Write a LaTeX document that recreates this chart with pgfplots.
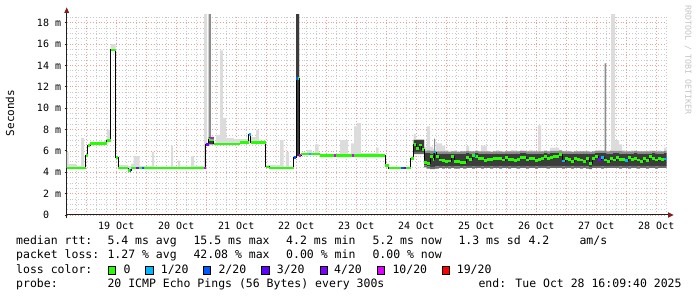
\documentclass[border=0pt]{standalone}
\usepackage{fontspec}
\setmainfont{DejaVu Sans Mono}
\usepackage{pgfplots}
\pgfplotsset{compat=1.18}
\usepackage{pgfplotstable}
\definecolor{lcA}{HTML}{26FF00}
\definecolor{lcB}{HTML}{00B8FF}
\definecolor{lcC}{HTML}{0059FF}
\definecolor{lcD}{HTML}{5E00FF}
\definecolor{lcE}{HTML}{7E00FF}
\definecolor{lcF}{HTML}{DD00FF}
\definecolor{lcG}{HTML}{FF0000}
\definecolor{smkA}{HTML}{6A6A6A}
\definecolor{smkB}{HTML}{3C3C3C}
\definecolor{smkC}{HTML}{8C8C8C}
\definecolor{smkD}{HTML}{DCDCDC}
\definecolor{mgrid}{HTML}{E6A0A0}
\definecolor{ngrid}{HTML}{C8C8C8}
\definecolor{arrowc}{HTML}{7F1F1F}
\definecolor{axisc}{HTML}{1F1F1F}
\definecolor{wmark}{HTML}{C4C4C4}

\pgfplotstableread{
d lo f1 f2 f3 mx
18.673 4.4 4.4 4.4 4.4 5.9
18.708 4.4 4.4 4.4 4.4 4.75
18.833 4.4 4.4 4.4 4.4 4.6
18.917 4.4 4.4 4.4 4.4 7.2
18.967 4.4 4.4 4.4 4.4 4.4
18.988 5.55 5.55 5.55 5.55 5.6
19.025 6.5 6.5 6.5 6.5 6.5
19.067 6.7 6.7 6.7 6.7 6.8
19.300 6.7 6.7 6.7 6.7 7.0
19.345 7.0 7.0 7.0 7.0 8.0
19.405 15.45 15.45 15.45 15.45 16.0
19.488 5.4 5.4 5.4 5.4 5.5
19.533 4.4 4.4 4.4 4.4 4.7
19.700 4.2 4.2 4.2 4.2 4.6
19.750 4.4 4.4 4.4 4.4 4.8
19.788 4.4 4.4 4.4 4.4 5.5
19.888 4.4 4.4 4.4 4.4 4.6
20.095 4.4 4.4 4.4 4.4 5.9
20.133 4.4 4.4 4.4 4.4 4.5
20.417 4.4 4.4 4.4 4.4 6.5
20.450 4.4 4.4 4.4 4.4 4.5
20.533 4.4 4.4 4.4 4.4 5.1
20.567 4.4 4.4 4.4 4.4 4.5
20.750 4.4 4.4 4.4 4.4 5.5
20.800 4.4 4.4 4.4 4.4 4.6
20.967 4.4 4.4 4.4 4.4 18.8
20.988 6.6 6.6 6.6 6.6 18.8
21.017 6.6 6.6 6.6 6.6 6.6
21.038 6.6 6.6 7.3 18.8 18.8
21.078 6.6 6.6 7.3 7.3 7.3
21.122 6.65 6.65 6.65 6.65 6.7
21.167 6.65 6.65 6.65 6.65 7.5
21.233 6.65 6.65 6.65 6.65 15.4
21.278 6.65 6.65 6.65 6.65 9.1
21.333 6.65 6.65 6.65 6.65 7.2
21.455 6.65 6.65 6.65 6.65 7.1
21.567 6.8 6.8 6.8 6.8 7.1
21.705 7.5 7.5 7.5 7.5 7.6
21.745 6.75 6.75 6.75 6.75 7.3
21.833 6.75 6.75 6.75 6.75 8.0
21.878 6.75 6.75 6.75 6.75 6.9
21.995 4.5 4.5 4.5 4.5 4.7
22.050 4.4 4.4 4.4 4.4 4.7
22.233 4.4 4.4 4.4 4.4 7.0
22.288 4.4 4.4 4.4 4.4 4.5
22.328 4.4 4.4 4.4 4.4 5.9
22.378 4.4 4.4 4.4 4.4 4.5
22.462 5.4 5.4 5.4 5.4 5.5
22.500 5.5 5.5 18.8 18.8 18.8
22.550 5.55 5.55 5.55 5.55 5.7
22.583 5.7 5.7 5.7 5.7 5.8
22.683 5.7 5.7 5.7 5.7 6.1
22.762 5.7 5.7 5.7 5.7 5.8
22.817 5.7 5.7 5.7 5.7 6.6
22.872 5.7 5.7 5.7 5.7 5.8
22.900 5.6 5.6 5.6 5.6 5.7
23.233 5.6 5.6 5.6 5.6 7.0
23.367 5.6 5.6 5.6 5.6 5.7
23.417 5.6 5.6 5.6 5.6 6.7
23.467 5.6 5.6 5.6 5.6 8.3
23.512 5.6 5.6 5.6 5.6 8.6
23.578 5.6 5.6 5.6 5.6 5.8
23.833 5.6 5.6 5.6 5.6 6.3
23.872 5.6 5.6 5.6 5.6 5.7
23.983 4.6 4.6 4.6 4.6 4.6
24.038 4.4 4.4 4.4 4.4 4.4
24.405 5.3 5.3 5.3 5.3 5.3
24.455 5.7 5.9 7.0 7.05 7.6
24.500 5.7 5.9 7.0 7.05 7.1
24.633 4.45 4.65 5.8 6.0 6.4
24.683 4.35 4.55 5.8 6.05 8.3
24.733 4.3 4.5 5.75 6.0 6.4
24.783 4.3 4.5 5.8 6.0 6.2
24.797 4.3 4.5 5.8 7.15 7.15
24.813 4.35 4.55 5.75 5.95 6.1
24.833 4.35 4.55 5.75 5.95 6.7
24.883 4.4 4.6 5.7 5.95 6.7
24.933 4.35 4.55 5.75 5.95 6.5
24.983 4.4 4.6 5.75 5.95 6.1
25.033 4.35 4.55 5.7 5.9 6.0
25.083 4.4 4.6 5.75 5.95 6.0
25.133 4.35 4.55 5.7 5.95 6.05
25.183 4.35 4.55 5.7 5.9 5.95
25.233 4.4 4.6 5.75 5.95 6.0
25.283 4.35 4.55 5.75 5.95 6.0
25.333 4.4 4.6 5.8 6.0 6.45
25.383 4.4 4.6 5.75 5.95 6.0
25.433 4.35 4.55 5.75 5.95 6.0
25.483 4.4 4.6 5.8 6.0 6.05
25.533 4.4 4.6 5.75 5.95 6.0
25.583 4.35 4.55 5.75 5.95 6.5
25.633 4.4 4.6 5.75 5.95 6.5
25.683 4.4 4.6 5.75 5.95 6.0
25.733 4.35 4.55 5.7 5.9 5.95
25.783 4.4 4.6 5.75 5.95 6.0
25.833 4.4 4.6 5.75 5.95 6.1
25.883 4.35 4.55 5.75 5.95 6.0
25.933 4.4 4.6 5.7 5.9 6.0
25.983 4.4 4.6 5.75 5.95 6.0
26.033 4.35 4.55 5.75 5.95 6.0
26.083 4.4 4.6 5.75 5.95 6.1
26.133 4.4 4.6 5.75 5.95 6.05
26.183 4.35 4.55 5.7 5.95 6.0
26.233 4.4 4.6 5.8 6.0 6.05
26.283 4.4 4.6 5.8 6.0 6.0
26.333 4.35 4.55 5.75 5.95 6.0
26.383 4.4 4.6 5.75 5.95 6.1
26.433 4.4 4.6 5.75 5.95 6.05
26.483 4.35 4.55 5.7 5.95 6.0
26.533 4.4 4.6 5.75 5.95 8.4
26.583 4.4 4.6 5.75 5.95 6.0
26.633 4.4 4.6 5.8 6.0 6.05
26.683 4.35 4.55 5.75 5.95 6.0
26.733 4.4 4.6 5.8 6.0 6.3
26.783 4.4 4.6 5.8 6.0 6.3
26.833 4.4 4.6 5.8 6.0 6.3
26.883 4.4 4.6 5.8 6.05 6.1
26.933 4.35 4.55 5.75 5.95 6.0
26.983 4.4 4.6 5.75 5.95 6.0
27.033 4.4 4.6 5.75 5.95 6.0
27.083 4.35 4.55 5.7 5.9 5.95
27.133 4.4 4.6 5.75 5.95 6.0
27.183 4.4 4.6 5.75 5.95 6.0
27.233 4.35 4.55 5.7 5.95 6.0
27.283 4.4 4.6 5.75 5.95 6.0
27.333 4.35 4.55 5.75 5.95 6.0
27.383 4.3 4.5 5.7 5.9 5.95
27.433 4.4 4.6 5.75 5.95 6.0
27.483 4.4 4.6 5.8 6.0 6.05
27.533 4.4 4.6 5.8 6.0 6.1
27.583 4.35 4.55 5.8 6.0 6.05
27.633 4.4 4.6 5.8 6.0 6.05
27.642 4.4 4.6 5.8 14.2 14.2
27.665 4.4 4.6 5.75 5.95 6.0
27.683 4.4 4.6 5.75 5.95 6.0
27.733 4.4 4.6 5.75 6.0 6.1
27.748 4.4 4.6 5.75 6.0 18.8
27.783 4.4 4.6 5.8 6.0 18.8
27.817 4.4 4.6 5.8 6.0 6.9
27.833 4.4 4.6 5.8 6.0 7.0
27.883 4.35 4.55 5.75 6.0 6.6
27.933 4.4 4.6 5.75 5.95 6.1
27.983 4.4 4.6 5.75 5.95 6.0
28.033 4.35 4.55 5.7 5.95 6.0
28.083 4.4 4.6 5.75 5.95 6.05
28.133 4.4 4.6 5.8 6.0 6.0
28.183 4.35 4.55 5.75 5.95 6.0
28.233 4.4 4.6 5.75 5.95 6.0
28.283 4.4 4.6 5.7 5.95 6.0
28.333 4.35 4.55 5.75 5.95 6.0
28.383 4.4 4.6 5.75 5.95 6.05
28.433 4.4 4.6 5.8 6.0 6.0
28.483 4.35 4.55 5.75 5.95 6.0
28.533 4.4 4.6 5.75 5.95 6.05
28.583 4.4 4.6 5.75 5.95 6.0
28.633 4.4 4.6 5.8 6.0 6.3
28.673 4.4 4.6 5.8 6.0 6.3
}\smoke

\pgfplotstableread{
d m
18.673 4.4
18.988 5.55
19.025 6.5
19.067 6.7
19.345 7.0
19.405 15.45
19.488 5.4
19.533 4.4
19.700 4.2
19.750 4.4
20.988 6.6
21.038 7.1
21.122 6.65
21.567 6.8
21.705 7.5
21.745 6.75
21.995 4.5
22.050 4.4
22.462 5.4
22.500 12.8
22.550 5.55
22.583 5.7
22.900 5.6
23.983 4.6
24.038 4.4
24.405 5.3
24.455 6.6
24.500 6.2
24.550 6.55
24.595 6.1
24.633 4.9
24.683 4.85
24.733 5.5
24.783 5.2
24.797 5.9
24.833 5.45
24.883 5.15
24.933 5.1
24.983 5.0
25.033 5.05
25.083 5.45
25.133 5.0
25.183 5.0
25.233 4.95
25.283 4.9
25.333 5.4
25.383 5.2
25.433 5.55
25.483 5.45
25.533 5.3
25.583 5.3
25.633 5.1
25.683 5.2
25.733 5.2
25.783 5.3
25.833 5.3
25.883 5.3
25.933 5.15
25.983 5.4
26.033 5.2
26.083 5.2
26.133 5.1
26.183 5.2
26.233 5.4
26.283 5.4
26.333 5.15
26.383 5.3
26.433 5.3
26.483 5.1
26.533 5.2
26.583 5.3
26.633 5.5
26.683 5.3
26.733 5.4
26.783 5.45
26.833 5.5
26.883 5.65
26.933 5.05
26.983 5.3
27.033 5.2
27.083 5.0
27.133 5.3
27.183 5.2
27.233 5.15
27.283 5.0
27.333 5.3
27.383 4.85
27.433 5.3
27.483 5.45
27.533 5.2
27.583 5.35
27.633 5.15
27.683 5.0
27.733 5.3
27.783 5.15
27.833 5.35
27.883 5.2
27.933 5.2
27.983 5.1
28.033 5.35
28.083 5.2
28.133 5.3
28.183 5.15
28.233 5.0
28.283 5.3
28.333 5.1
28.383 5.45
28.433 5.3
28.483 5.15
28.533 5.3
28.583 5.2
28.633 5.25
28.673 5.25
}\median

\newcommand\lgd[3]{\node[anchor=base west, inner sep=0pt, font=\fontsize{11.5}{13}\selectfont] at (#1pt,#2pt) {#3};}
\newcommand\bx[2]{\draw[black, line width=0.9pt, fill=#2] (#1pt,22.9pt) rectangle ++(7.2pt,7.6pt);}
\newcommand\seg[4]{\addplot[#1, line width=2.8pt] coordinates {(#2,#4) (#3,#4)};}

\pgfplotsset{
  base/.style={
    at={(66.6pt,82pt)}, anchor=south west, scale only axis,
    width=600pt, height=200pt,
    xmin=18.673, xmax=28.673, ymin=0, ymax=18.72,
  }
}

\begin{document}
\begin{tikzpicture}
\path[use as bounding box] (0,0) rectangle (697pt,297pt);
\begin{axis}[base,
  axis x line*=bottom, axis y line*=left,
  axis line style={-, draw=axisc, line width=1pt},
  y axis line style={shorten >=-2.5pt, shorten <=-3pt},
  x axis line style={shorten >=-1.5pt},
  xtick={19,19.5,...,28.5},
  xticklabels={{},19 Oct,{},20 Oct,{},21 Oct,{},22 Oct,{},23 Oct,{},24 Oct,{},25 Oct,{},26 Oct,{},27 Oct,{},28 Oct},
  minor xtick={18.833333,19,...,28.67},
  ytick={0,2,...,18},
  yticklabels={0\phantom{\ m},2 m,4 m,6 m,8 m,10 m,12 m,14 m,16 m,18 m},
  minor ytick={0.5,1,...,18.6},
  grid=both,
  major grid style={draw=mgrid, dash pattern=on 0.9pt off 2pt, line width=0.7pt},
  minor grid style={draw=ngrid, dash pattern=on 0.9pt off 2pt, line width=0.7pt},
  tick align=outside, major tick length=2pt, minor tick length=0pt,
  x tick style={draw=none},
  y tick style={draw=axisc, line width=0.8pt},
  ticklabel style={font=\fontsize{10}{12}\selectfont},
  xticklabel style={yshift=-2pt},
  stack plots=y, const plot,
]
\addplot[draw=none] table[x=d,y=lo]{\smoke};
\addplot[fill=smkA, draw=none] table[x=d,y expr=\thisrow{f1}-\thisrow{lo}]{\smoke} \closedcycle;
\addplot[fill=smkB, draw=none] table[x=d,y expr=\thisrow{f2}-\thisrow{f1}]{\smoke} \closedcycle;
\addplot[fill=smkC, draw=none] table[x=d,y expr=\thisrow{f3}-\thisrow{f2}]{\smoke} \closedcycle;
\addplot[fill=smkD, draw=none] table[x=d,y expr=\thisrow{mx}-\thisrow{f3}]{\smoke} \closedcycle;
\end{axis}
\begin{axis}[base, hide axis]
\addplot[black, line width=0.9pt, const plot mark left] table[x=d,y=m]{\median};
\addplot[lcA, line width=2.8pt, jump mark left] table[x=d,y=m]{\median};
\seg{lcB}{21.705}{21.745}{7.5}
\seg{lcB}{22.717}{22.750}{5.7}
\seg{lcB}{24.797}{24.830}{5.9}
\seg{lcB}{26.933}{26.983}{5.05}
\seg{lcB}{27.583}{27.633}{5.35}
\seg{lcB}{27.983}{28.033}{5.1}
\seg{lcB}{28.633}{28.673}{5.25}
\seg{lcC}{19.722}{19.750}{4.2}
\seg{lcC}{19.922}{19.962}{4.4}
\seg{lcC}{22.462}{22.500}{5.4}
\seg{lcC}{22.500}{22.533}{12.8}
\seg{lcC}{24.250}{24.288}{4.4}
\seg{lcC}{25.472}{25.500}{5.55}
\seg{lcD}{24.288}{24.328}{4.4}
\seg{lcE}{19.833}{19.872}{4.4}
\seg{lcE}{20.988}{21.038}{6.6}
\seg{lcE}{27.533}{27.583}{5.2}
\seg{lcF}{20.967}{20.988}{4.4}
\seg{lcF}{21.067}{21.122}{7.2}
\seg{lcF}{22.550}{22.578}{5.55}
\seg{lcF}{23.128}{23.162}{5.6}
\seg{lcF}{23.428}{23.455}{5.6}
\end{axis}
% axis arrows
\fill[arrowc] (64.2pt,284pt) -- (69.2pt,284pt) -- (66.7pt,289.6pt) -- cycle;
\fill[arrowc] (668pt,79.2pt) -- (668pt,84.8pt) -- (673.6pt,82pt) -- cycle;
% axis title and watermark
\node[rotate=90, inner sep=0pt, font=\fontsize{11}{13}\selectfont] at (10pt,184pt) {Seconds};
\node[rotate=-90, inner sep=0pt, font=\fontsize{8.3}{10}\selectfont, text=wmark] at (688pt,237pt) {RRDTOOL / TOBI OETIKER};
% legend
\lgd{16}{52}{median rtt:}
\lgd{107.3}{52}{5.4 ms avg}
\lgd{193.3}{52}{15.5 ms max}
\lgd{286}{52}{4.2 ms min}
\lgd{372.3}{52}{5.2 ms now}
\lgd{458.3}{52}{1.3 ms sd}
\lgd{528.3}{52}{4.2}
\lgd{579.3}{52}{am/s}
\lgd{16}{38}{packet loss:}
\lgd{107.3}{38}{1.27 \% avg}
\lgd{193.3}{38}{42.08 \% max}
\lgd{286}{38}{0.00 \% min}
\lgd{372.3}{38}{0.00 \% now}
\lgd{16}{23.5}{loss color:}
\bx{108.3}{lcA}\lgd{123.3}{23.5}{0}
\bx{145.9}{lcB}\lgd{160.7}{23.5}{1/20}
\bx{203.5}{lcC}\lgd{218.3}{23.5}{2/20}
\bx{261.9}{lcD}\lgd{276.7}{23.5}{3/20}
\bx{320.2}{lcE}\lgd{334}{23.5}{4/20}
\bx{377.7}{lcF}\lgd{392.3}{23.5}{10/20}
\bx{442.5}{lcG}\lgd{456.7}{23.5}{19/20}
\lgd{16}{9.5}{probe:}
\lgd{107.3}{9.5}{20 ICMP Echo Pings (56 Bytes) every 300s}
\lgd{478.3}{9.5}{end: Tue Oct 28 16:09:40 2025}
\end{tikzpicture}
\end{document}
